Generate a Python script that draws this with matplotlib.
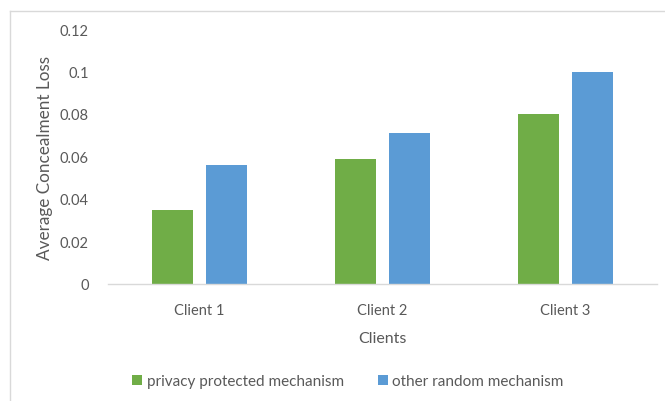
import matplotlib
matplotlib.use("Agg")
import matplotlib.pyplot as plt
import numpy as np
from matplotlib.lines import Line2D

categories = ["Client 1", "Client 2", "Client 3"]
privacy = [0.035, 0.059, 0.080]
other = [0.056, 0.071, 0.100]
yticks = [0, 0.02, 0.04, 0.06, 0.08, 0.1, 0.12]
ytick_labels = ["0", "0.02", "0.04", "0.06", "0.08", "0.1", "0.12"]

plt.rcParams['font.family'] = ['Lato', 'DejaVu Sans']
txt = '#595959'
green = '#70AD47'
blue = '#5B9BD5'

fig = plt.figure(figsize=(6.65, 4.02), dpi=100)
ax = fig.add_axes([108/665, 117/402, 549/665, 255/402])

x = np.arange(len(categories))
w = 0.224
off = 0.145
ax.bar(x - off, privacy, w, color=green, label='privacy protected mechanism')
ax.bar(x + off, other, w, color=blue, label='other random mechanism')

ax.set_xlim(-0.5, 2.5)
ax.set_ylim(0, 0.12)
ax.set_xticks(x)
ax.set_xticklabels(categories, fontsize=10.5, color=txt)
ax.set_yticks(yticks)
ax.set_yticklabels(ytick_labels, fontsize=10.5, color=txt)
ax.tick_params(axis='y', length=0, pad=14)
ax.tick_params(axis='x', length=0, pad=14)
for s in ['top', 'right', 'left']:
    ax.spines[s].set_visible(False)
ax.spines['bottom'].set_color('#d9d9d9')
ax.spines['bottom'].set_linewidth(1)

ax.set_xlabel('Clients', fontsize=11.5, color=txt, labelpad=10)
ax.set_ylabel('Average Concealment Loss', fontsize=12.3, color=txt, labelpad=5)

leg = fig.legend(loc='center', bbox_to_anchor=(348/665, 20/402),
                 ncol=2, frameon=False, fontsize=11, handlelength=0.65, handleheight=0.65,
                 columnspacing=2.2, handletextpad=0.3)
for t in leg.get_texts():
    t.set_color(txt)

# chart border
fig.add_artist(Line2D([10/665, 1.0], [1-12/402, 1-12/402], color='#d9d9d9', lw=1, transform=fig.transFigure))
fig.add_artist(Line2D([10/665, 10/665], [0, 1-12/402], color='#d9d9d9', lw=1, transform=fig.transFigure))

fig.savefig('out.png', dpi=100)
